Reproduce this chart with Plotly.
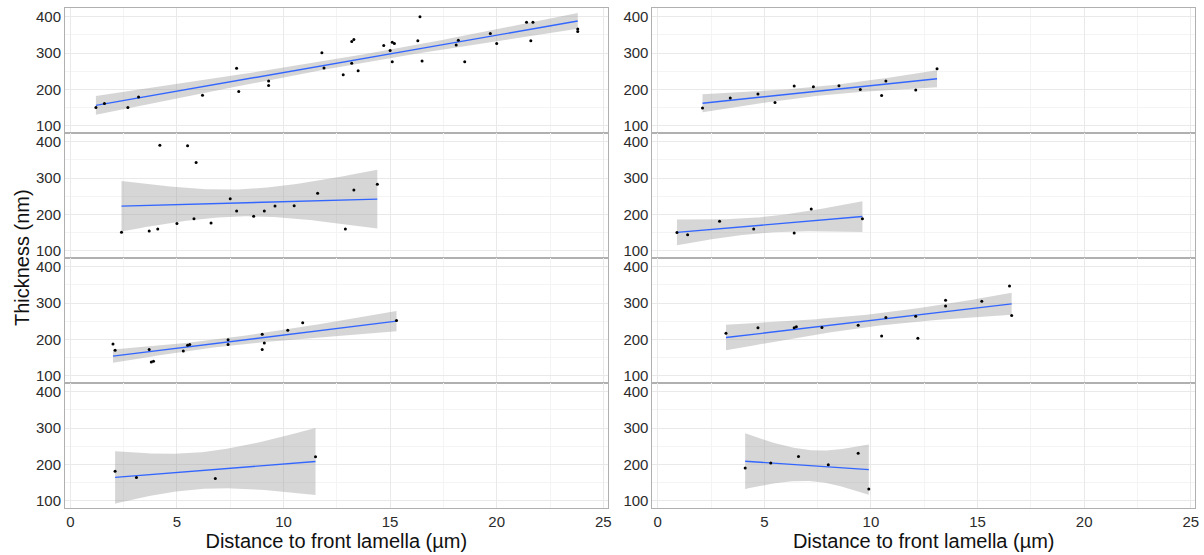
import numpy as np
import plotly.graph_objects as go
from plotly.subplots import make_subplots

# ---- data (distance in µm, thickness in nm) ----
# left column, rows 1-4
L1_x = [1.2, 1.6, 2.7, 3.2, 6.2, 7.8, 7.9, 9.3, 9.3, 11.8, 11.9, 12.8, 13.2, 13.3, 13.2, 13.5, 14.7,
        15.0, 15.1, 15.2, 15.1, 16.3, 16.4, 16.5, 18.1, 18.2, 18.5, 19.7, 20.0, 21.4, 21.6, 21.7, 23.8, 23.8]
L1_y = [150, 161, 150, 179, 184, 258, 194, 223, 211, 301, 259, 240, 332, 337, 272, 251, 321,
        307, 330, 326, 276, 334, 400, 278, 322, 335, 276, 354, 326, 385, 334, 385, 366, 359]

L2_x = [2.4, 3.7, 4.1, 4.2, 5.0, 5.5, 5.8, 5.9, 6.6, 7.5, 7.8, 8.6, 9.1, 9.6, 10.5, 11.6, 12.9, 13.3, 14.4]
L2_y = [151, 154, 160, 390, 175, 389, 188, 343, 176, 243, 209, 195, 209, 223, 224, 258, 160, 267, 283]

L3_x = [2.0, 2.1, 3.7, 3.8, 3.9, 5.3, 5.5, 5.6, 7.4, 7.4, 9.0, 9.1, 9.0, 10.2, 10.9, 15.3]
L3_y = [187, 170, 172, 138, 140, 168, 184, 186, 199, 186, 214, 190, 172, 225, 246, 252]

L4_x = [2.1, 3.1, 6.8, 11.5]
L4_y = [181, 164, 161, 221]

# right column, rows 1-4
R1_x = [2.1, 3.4, 4.7, 5.5, 6.4, 7.3, 8.5, 9.5, 10.5, 10.7, 12.1, 13.1]
R1_y = [149, 176, 187, 164, 209, 207, 210, 200, 183, 223, 198, 257]

R2_x = [0.9, 1.4, 2.9, 4.5, 6.4, 7.2, 9.6]
R2_y = [150, 144, 181, 160, 149, 215, 188]

R3_x = [3.2, 4.7, 6.4, 6.5, 7.7, 9.4, 10.5, 10.7, 12.1, 12.2, 13.5, 13.5, 15.2, 16.5, 16.6]
R3_y = [217, 232, 232, 235, 233, 239, 209, 260, 264, 203, 308, 292, 305, 347, 266]

R4_x = [4.1, 5.3, 6.6, 8.0, 9.4, 9.9]
R4_y = [190, 204, 222, 199, 231, 132]

panels = [
    (1, 1, L1_x, L1_y), (2, 1, L2_x, L2_y), (3, 1, L3_x, L3_y), (4, 1, L4_x, L4_y),
    (1, 2, R1_x, R1_y), (2, 2, R2_x, R2_y), (3, 2, R3_x, R3_y), (4, 2, R4_x, R4_y),
]

x_ticks = [0, 5, 10, 15, 20, 25]
y_ticks = [100, 200, 300, 400]

# t quantiles (0.975) by degrees of freedom
T975 = {1: 12.706, 2: 4.303, 3: 3.182, 4: 2.776, 5: 2.571, 6: 2.447, 7: 2.365, 8: 2.306,
        9: 2.262, 10: 2.228, 11: 2.201, 12: 2.179, 13: 2.160, 14: 2.145, 15: 2.131,
        16: 2.120, 17: 2.110, 18: 2.101, 19: 2.093, 20: 2.086, 21: 2.080, 22: 2.074,
        23: 2.069, 24: 2.064, 25: 2.060, 26: 2.056, 27: 2.052, 28: 2.048, 29: 2.045,
        30: 2.042, 31: 2.040, 32: 2.037, 33: 2.035, 34: 2.032, 35: 2.030}


def lm_fit(xs, ys):
    x = np.asarray(xs, float)
    y = np.asarray(ys, float)
    n = len(x)
    b, a = np.polyfit(x, y, 1)
    res = y - (a + b * x)
    s = np.sqrt(np.sum(res ** 2) / (n - 2))
    xbar = x.mean()
    sxx = np.sum((x - xbar) ** 2)
    grid = np.linspace(x.min(), x.max(), 80)
    fit = a + b * grid
    se = s * np.sqrt(1.0 / n + (grid - xbar) ** 2 / sxx)
    t = T975.get(n - 2, 2.03)
    return grid, fit, fit - t * se, fit + t * se


fig = make_subplots(rows=4, cols=2, horizontal_spacing=0.0397, vertical_spacing=0)

for r, c, xs, ys in panels:
    grid, fit, lo, hi = lm_fit(xs, ys)
    fig.add_trace(go.Scatter(
        x=np.concatenate([grid, grid[::-1]]), y=np.concatenate([hi, lo[::-1]]),
        fill="toself", fillcolor="rgba(153,153,153,0.4)", line=dict(width=0),
        mode="lines", hoverinfo="skip", showlegend=False), row=r, col=c)
    fig.add_trace(go.Scatter(
        x=grid, y=fit, mode="lines", line=dict(color="#3366FF", width=1.4),
        showlegend=False), row=r, col=c)
    fig.add_trace(go.Scatter(
        x=xs, y=ys, mode="markers", marker=dict(color="black", size=3),
        showlegend=False), row=r, col=c)

axis_font = dict(family="Liberation Sans, Arial, sans-serif", size=15, color="#2b2b2b")
for r in range(1, 5):
    for c in range(1, 3):
        fig.update_xaxes(
            range=[-0.25, 25.2], tickvals=x_ticks, ticktext=[str(v) for v in x_ticks],
            showticklabels=(r == 4), tickfont=axis_font,
            showgrid=True, gridcolor="#e9e9e9", gridwidth=1,
            minor=dict(dtick=2.5, tick0=0, showgrid=True, gridcolor="#f4f4f4", gridwidth=1),
            showline=True, mirror=True, linecolor="#b0b0b0", linewidth=1,
            zeroline=False, ticks="", row=r, col=c)
        fig.update_yaxes(
            range=[80, 424], tickvals=y_ticks, ticktext=[str(v) for v in y_ticks],
            tickfont=axis_font,
            showgrid=True, gridcolor="#e9e9e9", gridwidth=1,
            minor=dict(dtick=50, tick0=0, showgrid=True, gridcolor="#f4f4f4", gridwidth=1),
            showline=True, mirror=True, linecolor="#b0b0b0", linewidth=1,
            zeroline=False, ticks="", row=r, col=c)

title_font = dict(family="Liberation Sans, Arial, sans-serif", size=20, color="#111111")
for c in (1, 2):
    fig.update_xaxes(title=dict(text="Distance to front lamella (µm)", font=title_font, standoff=4),
                     row=4, col=c)

fig.add_annotation(text="Thickness (nm)", textangle=-90, font=title_font,
                   xref="paper", yref="paper", x=-0.038, y=0.5,
                   xanchor="center", yanchor="middle", showarrow=False)

fig.update_layout(
    width=1204, height=555,
    margin=dict(l=65, r=5, t=8, b=47),
    paper_bgcolor="white", plot_bgcolor="white",
    font=dict(family="Liberation Sans, Arial, sans-serif"),
)

fig.write_html("out.html", config={"displayModeBar": False},
               post_script="document.body.style.margin='0';document.body.style.overflow='hidden';")
